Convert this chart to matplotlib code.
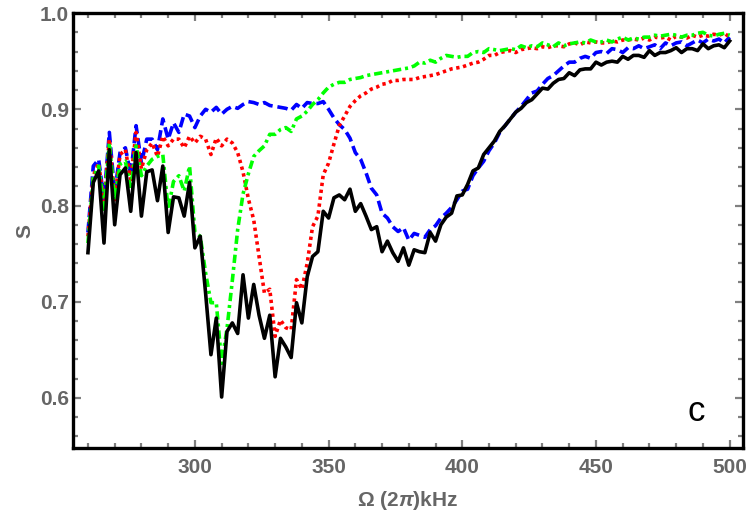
import matplotlib

matplotlib.use("Agg")
import matplotlib.pyplot as plt
from matplotlib.ticker import MultipleLocator

plt.rcParams["font.family"] = ["Liberation Sans", "DejaVu Sans"]
plt.rcParams["mathtext.fontset"] = "custom"
plt.rcParams["mathtext.rm"] = "Liberation Sans:bold"
plt.rcParams["mathtext.it"] = "Liberation Sans:italic:bold"
plt.rcParams["lines.scale_dashes"] = False

# Omega / (2 pi) in kHz, sampled every 2 kHz
omega = list(range(260, 502, 2))

s_black = [
    0.751, 0.824, 0.836, 0.761, 0.858, 0.780, 0.832, 0.839, 0.794, 0.855,
    0.789, 0.835, 0.837, 0.805, 0.841, 0.772, 0.809, 0.808, 0.789, 0.824,
    0.756, 0.768, 0.709, 0.645, 0.683, 0.601, 0.669, 0.678, 0.667, 0.728,
    0.683, 0.718, 0.686, 0.662, 0.686, 0.622, 0.662, 0.653, 0.642, 0.699,
    0.678, 0.726, 0.747, 0.752, 0.794, 0.787, 0.808, 0.811, 0.806, 0.817,
    0.794, 0.802, 0.789, 0.775, 0.778, 0.752, 0.763, 0.751, 0.742, 0.756,
    0.738, 0.754, 0.752, 0.751, 0.772, 0.763, 0.780, 0.788, 0.792, 0.810,
    0.811, 0.822, 0.836, 0.839, 0.853, 0.860, 0.867, 0.877, 0.883, 0.890,
    0.897, 0.901, 0.907, 0.910, 0.916, 0.922, 0.921, 0.927, 0.931, 0.932,
    0.938, 0.935, 0.941, 0.942, 0.942, 0.949, 0.946, 0.949, 0.950, 0.949,
    0.955, 0.952, 0.956, 0.956, 0.954, 0.961, 0.956, 0.959, 0.959, 0.961,
    0.964, 0.959, 0.963, 0.963, 0.961, 0.968, 0.963, 0.966, 0.967, 0.964,
    0.971,
]

s_blue = [
    0.772, 0.841, 0.848, 0.806, 0.876, 0.813, 0.855, 0.860, 0.832, 0.883,
    0.844, 0.869, 0.869, 0.858, 0.890, 0.869, 0.886, 0.876, 0.895, 0.893,
    0.881, 0.893, 0.900, 0.897, 0.902, 0.895, 0.900, 0.903, 0.901, 0.905,
    0.908, 0.907, 0.905, 0.907, 0.904, 0.903, 0.902, 0.901, 0.899, 0.905,
    0.901, 0.907, 0.906, 0.906, 0.908, 0.900, 0.891, 0.884, 0.879, 0.870,
    0.855, 0.848, 0.834, 0.818, 0.811, 0.792, 0.787, 0.778, 0.773, 0.777,
    0.764, 0.771, 0.769, 0.767, 0.775, 0.779, 0.787, 0.792, 0.798, 0.806,
    0.815, 0.817, 0.831, 0.839, 0.846, 0.857, 0.865, 0.876, 0.883, 0.890,
    0.897, 0.903, 0.910, 0.917, 0.919, 0.926, 0.932, 0.935, 0.940, 0.945,
    0.949, 0.949, 0.953, 0.955, 0.953, 0.959, 0.960, 0.958, 0.963, 0.962,
    0.959, 0.964, 0.963, 0.966, 0.963, 0.965, 0.967, 0.963, 0.969, 0.966,
    0.969, 0.970, 0.966, 0.969, 0.972, 0.969, 0.973, 0.971, 0.973, 0.969,
    0.975,
]

s_red = [
    0.768, 0.831, 0.844, 0.803, 0.869, 0.806, 0.853, 0.858, 0.827, 0.876,
    0.838, 0.858, 0.865, 0.851, 0.872, 0.862, 0.869, 0.869, 0.860, 0.872,
    0.865, 0.872, 0.869, 0.853, 0.870, 0.862, 0.869, 0.865, 0.855, 0.835,
    0.807, 0.785, 0.747, 0.709, 0.713, 0.664, 0.681, 0.673, 0.671, 0.723,
    0.713, 0.740, 0.778, 0.789, 0.832, 0.844, 0.864, 0.883, 0.893, 0.903,
    0.909, 0.914, 0.917, 0.921, 0.923, 0.926, 0.927, 0.930, 0.930, 0.931,
    0.931, 0.931, 0.933, 0.934, 0.935, 0.936, 0.938, 0.940, 0.942, 0.943,
    0.944, 0.946, 0.948, 0.949, 0.952, 0.956, 0.956, 0.959, 0.960, 0.961,
    0.959, 0.962, 0.963, 0.964, 0.963, 0.965, 0.964, 0.966, 0.966, 0.965,
    0.968, 0.969, 0.967, 0.970, 0.969, 0.970, 0.969, 0.969, 0.971, 0.970,
    0.972, 0.972, 0.973, 0.972, 0.974, 0.972, 0.975, 0.974, 0.975, 0.972,
    0.976, 0.975, 0.974, 0.977, 0.975, 0.977, 0.976, 0.978, 0.977, 0.979,
    0.975,
]

s_green = [
    0.761, 0.829, 0.841, 0.796, 0.865, 0.806, 0.843, 0.846, 0.817, 0.862,
    0.831, 0.841, 0.848, 0.851, 0.853, 0.796, 0.825, 0.831, 0.815, 0.841,
    0.772, 0.768, 0.730, 0.699, 0.699, 0.636, 0.672, 0.722, 0.775, 0.812,
    0.833, 0.851, 0.857, 0.862, 0.874, 0.874, 0.879, 0.881, 0.877, 0.890,
    0.893, 0.898, 0.905, 0.910, 0.917, 0.923, 0.926, 0.928, 0.928, 0.931,
    0.932, 0.933, 0.935, 0.936, 0.937, 0.938, 0.939, 0.940, 0.941, 0.942,
    0.943, 0.945, 0.949, 0.948, 0.951, 0.949, 0.953, 0.956, 0.955, 0.954,
    0.955, 0.955, 0.959, 0.960, 0.959, 0.963, 0.962, 0.961, 0.962, 0.963,
    0.962, 0.966, 0.964, 0.966, 0.965, 0.969, 0.967, 0.965, 0.969, 0.966,
    0.968, 0.969, 0.970, 0.969, 0.972, 0.970, 0.970, 0.972, 0.970, 0.973,
    0.975, 0.972, 0.974, 0.973, 0.975, 0.975, 0.977, 0.976, 0.977, 0.978,
    0.977, 0.975, 0.977, 0.977, 0.979, 0.980, 0.977, 0.976, 0.978, 0.979,
    0.977,
]

TICK_GRAY = "#666666"
LW = 2.6

fig = plt.figure(figsize=(7.5, 5.23), dpi=100)
ax = fig.add_axes([0.0973, 0.1434, 0.8934, 0.8316])

ax.plot(omega, s_blue, color="#0000ff", lw=LW, dashes=(7.5, 3.5))
ax.plot(omega, s_red, color="#ff0000", lw=LW, dashes=(2.4, 2.6))
ax.plot(omega, s_green, color="#00ff00", lw=LW, dashes=(6.0, 2.8, 2.2, 2.8))
ax.plot(omega, s_black, color="black", lw=LW)

ax.set_xlim(254.4, 505)
ax.set_ylim(0.548, 1.0)
ax.xaxis.set_major_locator(MultipleLocator(50))
ax.xaxis.set_minor_locator(MultipleLocator(10))
ax.yaxis.set_major_locator(MultipleLocator(0.1))
ax.yaxis.set_minor_locator(MultipleLocator(0.02))
ax.yaxis.set_major_formatter(plt.FuncFormatter(lambda v, _: f"{v:.1f}"))

ax.tick_params(which="both", direction="in", top=True, right=True, color="#808080",
               width=1.6, labelcolor=TICK_GRAY, labelsize=15)
ax.tick_params(which="major", length=6)
ax.tick_params(which="minor", length=3.5)
ax.tick_params(axis="x", which="major", pad=7)
ax.tick_params(axis="y", which="major", pad=3)
for label in ax.get_xticklabels() + ax.get_yticklabels():
    label.set_fontweight("bold")

for spine in ax.spines.values():
    spine.set_linewidth(2.4)
    spine.set_color("black")

ax.set_xlabel("Ω (2$\\mathit{\\pi}$)kHz", color=TICK_GRAY, fontsize=15,
              fontweight="bold", labelpad=9)
ax.set_ylabel("S", color=TICK_GRAY, fontsize=15, fontweight="bold", labelpad=4)

ax.text(0.93, 0.085, "c", transform=ax.transAxes, fontsize=25, ha="center", va="center")

fig.savefig("out.png", dpi=100)
